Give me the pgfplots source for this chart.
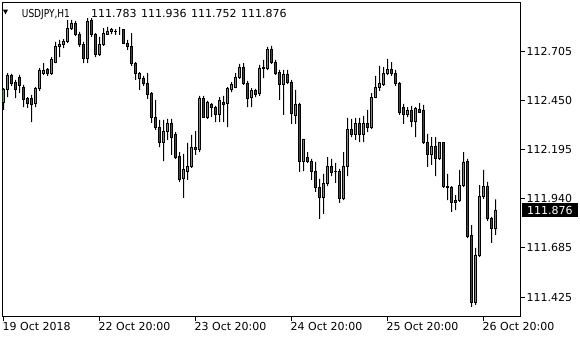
\documentclass[border=0pt]{standalone}
\usepackage{fontspec}
\setmainfont{DejaVu Sans}
\usepackage{pgfplots}
\pgfplotsset{compat=1.18}
\usepackage{pgfplotstable}
\definecolor{bull}{RGB}{0,225,0}
\definecolor{bear}{RGB}{230,0,0}
\pgfplotstableread{
i o h l c
0 112.443 112.516 112.402 112.506
1 112.506 112.594 112.469 112.579
2 112.579 112.589 112.527 112.542
3 112.547 112.558 112.464 112.506
4 112.573 112.584 112.490 112.527
5 112.521 112.532 112.417 112.454
6 112.459 112.469 112.412 112.438
7 112.459 112.480 112.339 112.428
8 112.433 112.521 112.417 112.511
9 112.511 112.620 112.501 112.605
10 112.594 112.646 112.584 112.605
11 112.610 112.620 112.579 112.594
12 112.594 112.677 112.584 112.662
13 112.651 112.756 112.646 112.730
14 112.730 112.766 112.677 112.745
15 112.745 112.771 112.724 112.756
16 112.756 112.870 112.750 112.828
17 112.828 112.870 112.818 112.854
18 112.854 112.865 112.787 112.797
19 112.797 112.808 112.730 112.740
20 112.745 112.756 112.646 112.672
21 112.672 112.880 112.646 112.860
22 112.865 112.880 112.782 112.792
23 112.792 112.802 112.677 112.688
24 112.688 112.782 112.683 112.740
25 112.740 112.828 112.735 112.802
26 112.797 112.834 112.792 112.808
27 112.808 112.828 112.797 112.818
28 112.808 112.823 112.792 112.809
29 112.818 112.834 112.792 112.818
30 112.818 112.823 112.745 112.750
31 112.750 112.766 112.714 112.730
32 112.730 112.802 112.631 112.641
33 112.646 112.651 112.558 112.589
34 112.568 112.599 112.506 112.589
35 112.568 112.579 112.527 112.537
36 112.542 112.594 112.459 112.480
37 112.485 112.495 112.334 112.360
38 112.360 112.454 112.298 112.308
39 112.313 112.350 112.209 112.230
40 112.230 112.350 112.136 112.292
41 112.292 112.355 112.246 112.329
42 112.329 112.355 112.168 112.261
43 112.272 112.287 112.147 112.157
44 112.162 112.183 112.027 112.038
45 112.043 112.173 111.944 112.090
46 112.084 112.230 112.038 112.110
47 112.105 112.272 112.100 112.209
48 112.209 112.292 112.168 112.194
49 112.194 112.475 112.183 112.464
50 112.464 112.475 112.360 112.365
51 112.365 112.449 112.355 112.438
52 112.428 112.438 112.365 112.412
53 112.412 112.423 112.339 112.376
54 112.376 112.469 112.339 112.449
55 112.443 112.475 112.339 112.428
56 112.438 112.521 112.313 112.511
57 112.506 112.547 112.495 112.532
58 112.521 112.594 112.516 112.573
59 112.573 112.641 112.563 112.625
60 112.625 112.646 112.532 112.542
61 112.542 112.553 112.417 112.464
62 112.469 112.516 112.417 112.501
63 112.501 112.511 112.469 112.480
64 112.485 112.636 112.475 112.620
65 112.615 112.662 112.568 112.625
66 112.620 112.730 112.610 112.719
67 112.714 112.735 112.641 112.651
68 112.651 112.662 112.584 112.594
69 112.599 112.610 112.454 112.532
70 112.532 112.610 112.376 112.584
71 112.584 112.610 112.537 112.547
72 112.547 112.558 112.329 112.381
73 112.371 112.506 112.329 112.428
74 112.428 112.438 112.079 112.131
75 112.136 112.251 112.084 112.246
76 112.157 112.183 112.126 112.131
77 112.131 112.147 112.038 112.079
78 112.079 112.131 111.975 111.996
79 111.996 112.043 111.835 111.944
80 111.944 112.069 111.861 112.017
81 112.017 112.157 112.006 112.110
82 112.110 112.147 112.058 112.074
83 112.079 112.126 112.022 112.080
84 112.084 112.095 111.918 111.939
85 111.939 112.183 111.933 112.105
86 112.105 112.360 112.058 112.298
87 112.298 112.355 112.261 112.272
88 112.272 112.360 112.246 112.329
89 112.329 112.360 112.235 112.272
90 112.272 112.371 112.235 112.329
91 112.329 112.402 112.287 112.308
92 112.308 112.490 112.303 112.469
93 112.469 112.579 112.464 112.521
94 112.521 112.631 112.501 112.537
95 112.532 112.625 112.527 112.594
96 112.594 112.667 112.584 112.610
97 112.610 112.651 112.579 112.589
98 112.589 112.610 112.527 112.537
99 112.537 112.547 112.376 112.386
100 112.412 112.433 112.329 112.376
101 112.376 112.417 112.365 112.397
102 112.397 112.423 112.313 112.344
103 112.344 112.417 112.261 112.407
104 112.402 112.438 112.386 112.391
105 112.397 112.428 112.225 112.230
106 112.230 112.277 112.105 112.168
107 112.168 112.261 112.116 112.214
108 112.214 112.261 112.058 112.147
109 112.147 112.232 112.142 112.230
110 112.230 112.232 111.996 112.006
111 112.006 112.069 111.933 111.996
112 111.996 112.006 111.871 111.918
113 111.933 111.959 111.881 111.918
114 111.933 112.090 111.923 112.011
115 112.011 112.183 112.001 112.126
116 112.131 112.147 111.736 111.741
117 111.746 111.803 111.377 111.398
118 111.398 111.684 111.387 111.642
119 111.642 112.011 111.637 111.949
120 111.949 112.090 111.939 112.001
121 112.001 112.027 111.824 111.835
122 111.835 111.845 111.710 111.783
123 111.783 111.936 111.752 111.876
}\candles

\begin{document}
\begin{tikzpicture}
\useasboundingbox (-2.5bp,-23.5bp) rectangle (577.5bp,316.5bp);
\begin{axis}[
  at={(0,0)}, anchor=south west,
  scale only axis, width=518bp, height=314bp,
  xmin=-0.25, xmax=129.25, ymin=0.327, ymax=1.961,
  enlargelimits=false,
  ybar stacked,
  axis line style={black, line width=1bp},
  xtick={0,24,48,72,96,120},
  xticklabels={19 Oct 2018,22 Oct 20:00,23 Oct 20:00,24 Oct 20:00,25 Oct 20:00,26 Oct 20:00},
  ytick={0.425,0.685,0.940,1.195,1.450,1.705},
  yticklabels={111.425,111.685,111.940,112.195,112.450,112.705},
  xtick pos=bottom, ytick pos=right,
  tick align=outside,
  major tick length=4bp,
  tick style={black, line width=1bp},
  tick label style={font=\fontsize{11bp}{13bp}\selectfont, inner sep=0pt, text=black},
  xticklabel style={anchor=north west, xshift=-1bp, yshift=-1.5bp},
  yticklabel style={anchor=west, xshift=2bp},
]
\addplot[draw=none, fill=none, bar width=1bp] table[x=i, y expr={\thisrow{l}-111}] {\candles};
\addplot[draw=none, fill=black, bar width=1bp] table[x=i, y expr={min(\thisrow{o},\thisrow{c})-\thisrow{l}}] {\candles};
\addplot[draw=black, line width=1bp, fill=bull, bar width=2bp] table[x=i, y expr={max(\thisrow{c}-\thisrow{o},0)}] {\candles};
\addplot[draw=black, line width=1bp, fill=bear, bar width=2bp] table[x=i, y expr={max(\thisrow{o}-\thisrow{c},0)}] {\candles};
\addplot[draw=none, fill=black, bar width=1bp] table[x=i, y expr={\thisrow{h}-max(\thisrow{o},\thisrow{c})}] {\candles};
\coordinate (pc) at (axis cs:129.25,0.876);
\end{axis}
\fill[black] (0.5bp,306.8bp) -- (5.5bp,306.8bp) -- (3bp,302.2bp) -- cycle;
\node[anchor=base west, inner sep=0pt, font=\fontsize{11bp}{13bp}\selectfont] at (19.2bp,299.2bp) {\scalebox{0.82}[1]{USDJPY,H1}};
\node[anchor=base west, inner sep=0pt, font=\fontsize{11bp}{13bp}\selectfont] at (88.5bp,299.2bp) {111.783\hspace{4.5bp}111.936\hspace{4.5bp}111.752\hspace{4.5bp}111.876};
\node[anchor=west, fill=black, text=white, inner xsep=5.3bp, inner ysep=0pt, minimum height=14bp, text height=8bp, text depth=0pt, font=\fontsize{11bp}{13bp}\selectfont] at ([xshift=1.2bp,yshift=1bp]pc) {111.876};
\end{tikzpicture}
\end{document}
